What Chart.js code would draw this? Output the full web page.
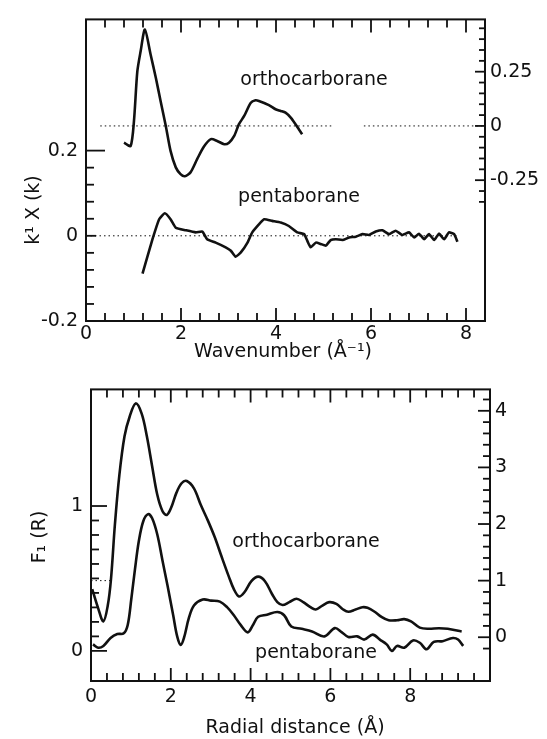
<!DOCTYPE html>
<html>
<head>
<meta charset="utf-8">
<script src="https://cdn.jsdelivr.net/npm/chart.js@4.4.0/dist/chart.umd.min.js"></script>
<style>
  html, body { margin: 0; padding: 0; background: #fff; }
  #wrap { position: relative; width: 547px; height: 739px; }
  .panel { position: absolute; left: 0; width: 547px; }
  #topBox { top: 0; height: 370px; }
  #bottomBox { top: 370px; height: 369px; }
</style>
</head>
<body>
<div id="wrap">
  <div class="panel" id="topBox"><canvas id="kChart" width="547" height="370"></canvas></div>
  <div class="panel" id="bottomBox"><canvas id="rChart" width="547" height="369"></canvas></div>
</div>
<script>
// ---- top panel: k^1 chi(k) vs wavenumber ----
const orthoK   = [0.80, 0.94, 1.01, 1.08, 1.15, 1.24, 1.36, 1.47, 1.57, 1.68, 1.78, 1.89, 1.99, 2.08, 2.20, 2.34, 2.48, 2.63, 2.76, 2.91, 3.01, 3.12, 3.22, 3.33, 3.47, 3.57, 3.64, 3.85, 3.99, 4.10, 4.20, 4.31, 4.41, 4.48, 4.55];
const orthoChi = [-0.077, -0.092, 0.023, 0.25, 0.344, 0.444, 0.329, 0.222, 0.115, 0.0, -0.115, -0.191, -0.222, -0.232, -0.214, -0.153, -0.096, -0.061, -0.069, -0.084, -0.077, -0.046, 0.008, 0.046, 0.107, 0.118, 0.115, 0.096, 0.077, 0.069, 0.061, 0.038, 0.008, -0.015, -0.038];

const pentaK   = [1.19, 1.40, 1.54, 1.66, 1.78, 1.89, 2.10, 2.31, 2.45, 2.55, 2.73, 2.94, 3.05, 3.15, 3.26, 3.40, 3.50, 3.64, 3.75, 3.92, 4.10, 4.27, 4.45, 4.59, 4.66, 4.73, 4.84, 4.94, 5.05, 5.15, 5.26, 5.40, 5.54, 5.68, 5.82, 5.96, 6.10, 6.24, 6.38, 6.52, 6.66, 6.80, 6.91, 7.01, 7.12, 7.22, 7.33, 7.43, 7.54, 7.64, 7.75, 7.82];
const pentaChi = [-0.089, -0.008, 0.039, 0.053, 0.039, 0.019, 0.013, 0.008, 0.010, -0.008, -0.016, -0.027, -0.035, -0.049, -0.039, -0.016, 0.008, 0.027, 0.039, 0.035, 0.031, 0.023, 0.008, 0.004, -0.012, -0.027, -0.016, -0.019, -0.023, -0.010, -0.008, -0.010, -0.004, -0.002, 0.004, 0.002, 0.010, 0.013, 0.004, 0.012, 0.002, 0.008, -0.004, 0.005, -0.008, 0.004, -0.010, 0.005, -0.008, 0.008, 0.004, -0.014];

// dotted zero lines (null = gap in the dots)
const orthoZeroK = [0.3, 5.2, 5.5, 5.85, 8.4];
const orthoZeroY = [0, 0, null, 0, 0];
const pentaZeroK = [0, 7.8];
const pentaZeroY = [0, 0];

// ---- bottom panel: F1(R) vs radial distance ----
const orthoR = [0.03, 0.18, 0.31, 0.42, 0.50, 0.60, 0.71, 0.84, 0.97, 1.12, 1.27, 1.40, 1.53, 1.66, 1.79, 1.90, 2.01, 2.14, 2.27, 2.40, 2.58, 2.75, 2.93, 3.10, 3.27, 3.45, 3.58, 3.71, 3.84, 4.02, 4.19, 4.36, 4.54, 4.67, 4.80, 4.97, 5.15, 5.32, 5.50, 5.63, 5.80, 5.97, 6.15, 6.32, 6.45, 6.63, 6.80, 6.93, 7.11, 7.28, 7.46, 7.67, 7.85, 8.02, 8.24, 8.46, 8.72, 8.94, 9.29];
const orthoF = [0.85, 0.51, 0.28, 0.56, 1.02, 2.0, 2.86, 3.55, 3.90, 4.13, 3.95, 3.55, 3.03, 2.52, 2.23, 2.16, 2.29, 2.55, 2.72, 2.76, 2.63, 2.34, 2.06, 1.77, 1.43, 1.08, 0.85, 0.72, 0.79, 0.99, 1.07, 0.99, 0.76, 0.62, 0.57, 0.62, 0.68, 0.62, 0.53, 0.49, 0.56, 0.62, 0.59, 0.49, 0.45, 0.49, 0.53, 0.52, 0.45, 0.36, 0.30, 0.30, 0.32, 0.28, 0.17, 0.15, 0.16, 0.15, 0.10];

const pentaR = [0.05, 0.18, 0.31, 0.49, 0.66, 0.82, 0.92, 1.01, 1.10, 1.20, 1.31, 1.43, 1.53, 1.66, 1.79, 1.92, 2.06, 2.16, 2.25, 2.33, 2.45, 2.58, 2.80, 3.01, 3.23, 3.41, 3.58, 3.75, 3.93, 4.06, 4.19, 4.41, 4.67, 4.84, 5.02, 5.28, 5.54, 5.85, 6.11, 6.28, 6.45, 6.67, 6.85, 7.06, 7.24, 7.41, 7.54, 7.67, 7.85, 8.07, 8.24, 8.41, 8.59, 8.81, 9.07, 9.20, 9.33];
const pentaF = [0.045, 0.022, 0.034, 0.089, 0.116, 0.121, 0.179, 0.358, 0.559, 0.76, 0.895, 0.944, 0.917, 0.805, 0.626, 0.447, 0.246, 0.10, 0.04, 0.089, 0.224, 0.313, 0.354, 0.347, 0.340, 0.302, 0.246, 0.179, 0.128, 0.179, 0.235, 0.25, 0.268, 0.246, 0.168, 0.152, 0.134, 0.10, 0.157, 0.130, 0.096, 0.10, 0.078, 0.112, 0.078, 0.045, 0.0, 0.034, 0.022, 0.072, 0.056, 0.011, 0.062, 0.067, 0.089, 0.078, 0.034];

// short dotted marker at F = 1 on the right scale
const markR = [0, 0.5];
const markF = [1, 1];

// ---- ticks ----
const topXLabels = [0, 2, 4, 6, 8];
const topXMinor = [0.4, 0.8, 1.2, 1.6, 2.4, 2.8, 3.2, 3.6, 4.4, 4.8, 5.2, 5.6, 6.4, 6.8, 7.2, 7.6];
const topYLabels = [-0.2, 0, 0.2];
const topYMinor = [-0.16, -0.12, -0.08, -0.04, 0.04, 0.08, 0.12, 0.16];
const topY2Labels = [-0.25, 0, 0.25];
const topY2Minor = [-0.35, -0.3, -0.2, -0.15, -0.1, -0.05, 0.05, 0.1, 0.15, 0.2, 0.3, 0.35, 0.4, 0.45];

const botXLabels = [0, 2, 4, 6, 8];
const botXMinor = [0.4, 0.8, 1.2, 1.6, 2.4, 2.8, 3.2, 3.6, 4.4, 4.8, 5.2, 5.6, 6.4, 6.8, 7.2, 7.6, 8.4, 8.8, 9.2, 9.6];
const botYLabels = [0, 1];
const botYMinor = [0.1, 0.2, 0.3, 0.4, 0.5, 0.6, 0.7, 0.8, 0.9];
const botY2Labels = [0, 1, 2, 3, 4];
const botY2Minor = [-0.2, 0.2, 0.4, 0.6, 0.8, 1.2, 1.4, 1.6, 1.8, 2.2, 2.4, 2.6, 2.8, 3.2, 3.4, 3.6, 3.8, 4.2];

const FONT = 'DejaVu Sans';
const INK = '#111';

function pts(xs, ys) {
  return xs.map((x, i) => ({ x: x, y: ys[i] }));
}

// frame, inward ticks and free text
const paperPlugin = {
  id: 'paper',
  afterDraw(chart, args, o) {
    const ctx = chart.ctx;
    const a = chart.chartArea;
    ctx.save();
    ctx.strokeStyle = INK;
    ctx.lineWidth = 2;
    ctx.strokeRect(a.left, a.top, a.right - a.left, a.bottom - a.top);
    ctx.lineWidth = 1.8;
    o.ticks.forEach(t => {
      const s = chart.scales[t.scale];
      t.values.forEach(v => {
        const p = s.getPixelForValue(v);
        ctx.beginPath();
        if (t.scale === 'x') {
          ctx.moveTo(p, a.bottom); ctx.lineTo(p, a.bottom - t.len);
          ctx.moveTo(p, a.top); ctx.lineTo(p, a.top + t.len);
        } else if (t.scale === 'y') {
          ctx.moveTo(a.left, p); ctx.lineTo(a.left + t.len, p);
        } else {
          ctx.moveTo(a.right, p); ctx.lineTo(a.right - t.len, p);
        }
        ctx.stroke();
      });
    });
    ctx.fillStyle = INK;
    ctx.textAlign = 'center';
    ctx.textBaseline = 'middle';
    o.texts.forEach(t => {
      ctx.save();
      ctx.font = (t.size || 19) + 'px "' + FONT + '"';
      ctx.translate(t.x, t.y);
      if (t.rot) ctx.rotate(t.rot);
      ctx.fillText(t.text, 0, 0);
      ctx.restore();
    });
    ctx.restore();
  }
};

function lineSet(data, axis, width, tension, dash) {
  return {
    data: data,
    yAxisID: axis,
    borderColor: INK,
    borderWidth: width,
    borderDash: dash || [],
    pointRadius: 0,
    tension: tension,
    fill: false,
    spanGaps: false
  };
}

function tickAxis(opts) {
  return {
    type: 'linear',
    position: opts.position,
    min: opts.min,
    max: opts.max,
    afterBuildTicks: s => { s.ticks = opts.labels.map(v => ({ value: v })); },
    afterFit: s => {
      if (opts.position === 'bottom') s.height = opts.size; else s.width = opts.size;
    },
    grid: { display: false, drawTicks: false },
    border: { display: false },
    ticks: {
      color: INK,
      padding: opts.pad,
      autoSkip: false,
      maxRotation: 0,
      font: { family: FONT, size: 19 },
      callback: v => String(v)
    }
  };
}

function makePanel(id, cfg) {
  return new Chart(document.getElementById(id), {
    type: 'line',
    data: { datasets: cfg.datasets },
    options: {
      responsive: false,
      animation: false,
      devicePixelRatio: 1,
      layout: { padding: { top: cfg.top, left: 0, right: 0, bottom: 0 } },
      plugins: {
        legend: { display: false },
        tooltip: { enabled: false },
        paper: { ticks: cfg.ticks, texts: cfg.texts }
      },
      scales: cfg.scales
    },
    plugins: [paperPlugin]
  });
}

makePanel('kChart', {
  top: 18,
  datasets: [
    lineSet(pts(orthoZeroK, orthoZeroY), 'y2', 1, 0, [1.5, 3]),
    lineSet(pts(pentaZeroK, pentaZeroY), 'y', 1, 0, [1.5, 3]),
    lineSet(pts(orthoK, orthoChi), 'y2', 2.6, 0.25),
    lineSet(pts(pentaK, pentaChi), 'y', 2.6, 0.15)
  ],
  scales: {
    x: tickAxis({ position: 'bottom', min: 0, max: 8.4, labels: topXLabels, size: 49, pad: 2 }),
    y: tickAxis({ position: 'left', min: -0.2, max: 0.508, labels: topYLabels, size: 86, pad: 8 }),
    y2: tickAxis({ position: 'right', min: -0.899, max: 0.491, labels: topY2Labels, size: 62, pad: 5 })
  },
  ticks: [
    { scale: 'x', values: topXLabels, len: 13 },
    { scale: 'x', values: topXMinor, len: 8 },
    { scale: 'y', values: [-0.2, 0], len: 10 },
    { scale: 'y', values: [0.2], len: 19 },
    { scale: 'y', values: topYMinor, len: 8 },
    { scale: 'y2', values: topY2Labels, len: 10 },
    { scale: 'y2', values: topY2Minor, len: 6 }
  ],
  texts: [
    { text: 'orthocarborane', x: 314, y: 80 },
    { text: 'pentaborane', x: 299, y: 197 },
    { text: 'Wavenumber (Å⁻¹)', x: 283, y: 352 },
    { text: 'k¹ X (k)', x: 34, y: 210, rot: -Math.PI / 2 }
  ]
});

makePanel('rChart', {
  top: 11,
  datasets: [
    lineSet(pts(markR, markF), 'y2', 1, 0, [1.5, 3]),
    lineSet(pts(orthoR, orthoF), 'y2', 2.6, 0.35),
    lineSet(pts(pentaR, pentaF), 'y', 2.6, 0.35)
  ],
  scales: {
    x: tickAxis({ position: 'bottom', min: 0, max: 10, labels: botXLabels, size: 58, pad: 5 }),
    y: tickAxis({ position: 'left', min: -0.208, max: 1.805, labels: botYLabels, size: 91, pad: 8 }),
    y2: tickAxis({ position: 'right', min: -0.773, max: 4.378, labels: botY2Labels, size: 57, pad: 5 })
  },
  ticks: [
    { scale: 'x', values: botXLabels, len: 13 },
    { scale: 'x', values: botXMinor, len: 8 },
    { scale: 'y', values: botYLabels, len: 16 },
    { scale: 'y', values: botYMinor, len: 8 },
    { scale: 'y2', values: botY2Labels, len: 12 },
    { scale: 'y2', values: botY2Minor, len: 7 }
  ],
  texts: [
    { text: 'orthocarborane', x: 306, y: 172 },
    { text: 'pentaborane', x: 316, y: 283 },
    { text: 'Radial distance (Å)', x: 295, y: 358 },
    { text: 'F₁ (R)', x: 40, y: 167, rot: -Math.PI / 2 }
  ]
});
</script>
</body>
</html>
